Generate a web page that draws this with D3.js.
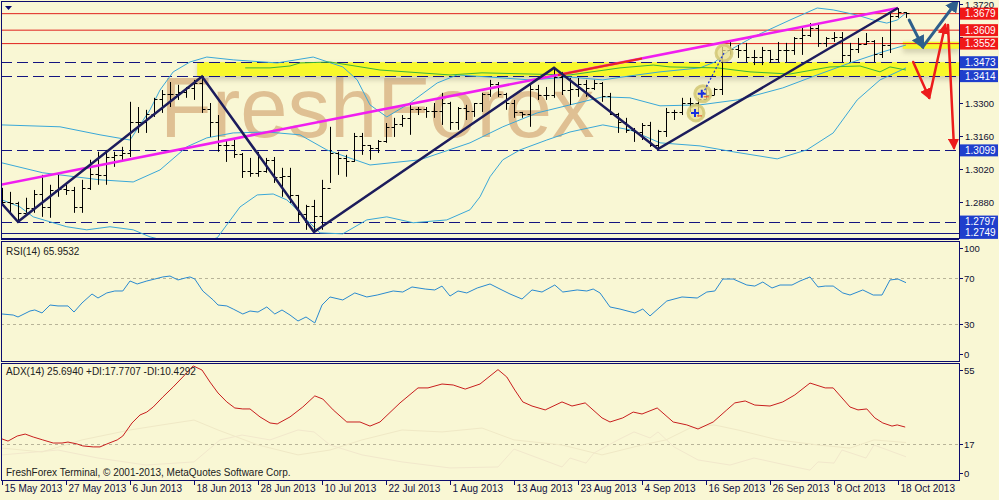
<!DOCTYPE html>
<html>
<head>
<meta charset="utf-8">
<script src="https://cdnjs.cloudflare.com/ajax/libs/d3/7.8.5/d3.min.js"></script>
<style>
body { margin: 0; background: #f9f7d4; }
svg { display: block; font-family: "Liberation Sans", Arial, sans-serif; }
</style>
</head>
<body>
<div id="chart"></div>
<script>
// ---- data (EURUSD daily) ----
var dateLabels = ["15 May 2013","27 May 2013","6 Jun 2013","18 Jun 2013","28 Jun 2013","10 Jul 2013",
  "22 Jul 2013","1 Aug 2013","13 Aug 2013","23 Aug 2013","4 Sep 2013","16 Sep 2013","26 Sep 2013",
  "8 Oct 2013","18 Oct 2013"];
var dateLabelBars = [0,8,16,24,32,40,48,56,64,72,80,88,96,104,112];

var opens = [1.2920,1.2880,1.2875,1.2835,1.2855,1.2915,1.2860,1.2930,1.2935,1.2930,
  1.2860,1.2940,1.3000,1.2995,1.3070,1.3080,1.3090,1.3220,1.3220,1.3255,
  1.3315,1.3340,1.3340,1.3345,1.3365,1.3385,1.3275,1.3220,1.3120,1.3120,
  1.3085,1.3010,1.3005,1.3010,1.3060,1.2985,1.2990,1.2910,1.2830,1.2865,
  1.2820,1.2940,1.3090,1.3065,1.3055,1.3160,1.3120,1.3110,1.3140,1.3200,
  1.3210,1.3235,1.3275,1.3275,1.3265,1.3265,1.3300,1.3220,1.3280,1.3265,
  1.3300,1.3340,1.3380,1.3340,1.3300,1.3260,1.3255,1.3360,1.3335,1.3335,
  1.3410,1.3355,1.3360,1.3380,1.3365,1.3385,1.3330,1.3255,1.3220,1.3185,
  1.3175,1.3205,1.3120,1.3180,1.3260,1.3260,1.3300,1.3300,1.3315,1.3335,
  1.3360,1.3525,1.3530,1.3525,1.3495,1.3495,1.3525,1.3485,1.3525,1.3525,
  1.3575,1.3590,1.3620,1.3555,1.3575,1.3580,1.3505,1.3530,1.3550,1.3565,
  1.3510,1.3545,1.3670,1.3685];
var highs = [1.2940,1.2923,1.2881,1.2898,1.2931,1.2995,1.2953,1.2995,1.2953,1.2944,
  1.2974,1.3059,1.3093,1.3101,1.3093,1.3114,1.3305,1.3283,1.3271,1.3322,
  1.3355,1.3389,1.3377,1.3368,1.3398,1.3410,1.3300,1.3249,1.3143,1.3143,
  1.3088,1.3067,1.3093,1.3067,1.3071,1.3025,1.3025,1.2910,1.2868,1.2889,
  1.2974,1.3199,1.3093,1.3080,1.3173,1.3173,1.3122,1.3143,1.3215,1.3237,
  1.3249,1.3292,1.3283,1.3283,1.3300,1.3343,1.3305,1.3283,1.3292,1.3300,
  1.3343,1.3398,1.3389,1.3343,1.3313,1.3262,1.3377,1.3377,1.3368,1.3449,
  1.3432,1.3406,1.3406,1.3398,1.3398,1.3389,1.3343,1.3258,1.3237,1.3194,
  1.3215,1.3220,1.3186,1.3279,1.3271,1.3322,1.3322,1.3322,1.3377,1.3364,
  1.3538,1.3567,1.3546,1.3555,1.3525,1.3538,1.3525,1.3559,1.3555,1.3580,
  1.3622,1.3639,1.3631,1.3580,1.3601,1.3601,1.3555,1.3576,1.3597,1.3567,
  1.3580,1.3682,1.3703,1.3686];
var lows = [1.2868,1.2834,1.2796,1.2834,1.2834,1.2817,1.2813,1.2902,1.2910,1.2834,
  1.2834,1.2931,1.2953,1.2953,1.3029,1.3050,1.3071,1.3173,1.3173,1.3241,
  1.3258,1.3283,1.3313,1.3322,1.3313,1.3258,1.3156,1.3093,1.3050,1.3067,
  1.2982,1.2987,1.2987,1.3004,1.2961,1.2902,1.2876,1.2796,1.2762,1.2753,
  1.2762,1.2961,1.2995,1.2987,1.3050,1.3080,1.3059,1.3088,1.3131,1.3156,
  1.3199,1.3165,1.3249,1.3237,1.3237,1.3207,1.3186,1.3186,1.3228,1.3241,
  1.3262,1.3326,1.3326,1.3271,1.3237,1.3237,1.3199,1.3313,1.3313,1.3322,
  1.3334,1.3292,1.3326,1.3326,1.3355,1.3305,1.3249,1.3173,1.3173,1.3135,
  1.3143,1.3114,1.3101,1.3156,1.3228,1.3249,1.3262,1.3241,1.3313,1.3334,
  1.3334,1.3504,1.3491,1.3474,1.3461,1.3461,1.3470,1.3474,1.3474,1.3504,
  1.3504,1.3580,1.3538,1.3538,1.3559,1.3474,1.3474,1.3512,1.3546,1.3474,
  1.3491,1.3512,1.3661,1.3661];
var closes = [1.2880,1.2875,1.2835,1.2855,1.2915,1.2860,1.2930,1.2935,1.2930,1.2860,
  1.2940,1.3000,1.2995,1.3070,1.3080,1.3090,1.3220,1.3220,1.3255,1.3315,
  1.3340,1.3340,1.3345,1.3365,1.3385,1.3275,1.3220,1.3120,1.3120,1.3085,
  1.3010,1.3005,1.3010,1.3060,1.2985,1.2990,1.2910,1.2830,1.2865,1.2820,
  1.2940,1.3090,1.3065,1.3055,1.3160,1.3120,1.3110,1.3140,1.3200,1.3210,
  1.3235,1.3275,1.3275,1.3265,1.3265,1.3300,1.3220,1.3280,1.3265,1.3300,
  1.3340,1.3380,1.3340,1.3300,1.3260,1.3255,1.3360,1.3335,1.3335,1.3410,
  1.3355,1.3360,1.3380,1.3365,1.3385,1.3330,1.3255,1.3220,1.3185,1.3175,
  1.3205,1.3120,1.3180,1.3260,1.3260,1.3300,1.3300,1.3315,1.3335,1.3360,
  1.3525,1.3530,1.3525,1.3495,1.3495,1.3525,1.3485,1.3525,1.3525,1.3575,
  1.3590,1.3620,1.3555,1.3575,1.3580,1.3505,1.3530,1.3550,1.3565,1.3510,
  1.3545,1.3670,1.3685,1.3680];

// bollinger lines, [bar, price]
var bbUpper = [[0,1.3207],[7.25,1.3199],[12.25,1.3165],[16,1.3143],[18.5,1.3271],[19.75,1.3355],
  [21.4,1.3432],[23.5,1.3474],[25.6,1.3495],[28.9,1.3483],[34.4,1.3470],[38.9,1.3495],[42.6,1.3453],
  [44.4,1.3398],[46,1.3292],[48.1,1.3241],[51,1.3300],[54.4,1.3385],[56.9,1.3419],[61,1.3410],
  [66,1.3398],[71,1.3410],[75.1,1.3398],[78.5,1.3415],[82.25,1.3432],[87.25,1.3449],[89.1,1.3474],
  [91,1.3525],[93.9,1.3580],[98.5,1.3652],[101.9,1.3703],[103.9,1.3695],[106.9,1.3673],
  [108.9,1.3652],[110.6,1.3639],[111.9,1.3652],[113,1.3682]];
var bbMiddle = [[0,1.3046],[5.1,1.3004],[12.25,1.2974],[16.4,1.2965],[19.75,1.3016],[23.1,1.3114],
  [25.6,1.3152],[28.9,1.3173],[33.1,1.3177],[37.25,1.3165],[40.6,1.3101],[43.1,1.3071],[46,1.3037],
  [52.25,1.3059],[58.5,1.3131],[62.6,1.3199],[66.9,1.3258],[71,1.3292],[75.1,1.3326],[78.5,1.3322],
  [82.25,1.3288],[87.25,1.3292],[91.9,1.3313],[94.75,1.3338],[97.6,1.3364],[101.9,1.3419],
  [106,1.3470],[110.1,1.3517],[113,1.3546]];
var bbLower = [[0,1.2889],[2.25,1.2859],[3.9,1.2817],[8.1,1.2775],[10.6,1.2762],[13.5,1.2775],
  [16.4,1.2762],[18.5,1.2732],[21,1.2711],[24.75,1.2707],[26.9,1.2728],[29.75,1.2859],[31.9,1.2910],
  [33.9,1.2914],[35.6,1.2889],[36.9,1.2847],[38.1,1.2804],[39.75,1.2749],[42.6,1.2745],[45.6,1.2804],
  [48.1,1.2817],[51.4,1.2792],[55.6,1.2804],[58.5,1.2847],[59.75,1.2902],[61,1.2987],[62.6,1.3059],
  [64.75,1.3101],[68.1,1.3143],[71,1.3177],[75.1,1.3207],[78.5,1.3186],[82.25,1.3131],[87.25,1.3118],
  [91.4,1.3093],[96.9,1.3063],[100.6,1.3101],[103.9,1.3173],[106.9,1.3313],[109.75,1.3398],[113,1.3449]];
var greenLine = [[30.4,1.3449],[33.5,1.3449],[36,1.3457],[37.25,1.3470],[41,1.3474],[47.25,1.3440],
  [56,1.3419],[60,1.3428],[66,1.3423],[71,1.3419],[77.25,1.3449],[81.4,1.3461],[83.5,1.3453],
  [89.4,1.3449],[93.5,1.3432],[98.5,1.3423],[103.5,1.3453],[107.25,1.3457],[109.75,1.3432],
  [111,1.3453],[113,1.3440]];

var zigzag = [[0,1.2872],[2,1.2796],[25,1.3412],[39,1.2753],[69,1.3449],[82,1.3105],[112,1.3703]];
var trendLine = [[-0.25,1.2953],[112,1.3703]];
var trendRed = [[69.5,1.3419],[80,1.3489]];

var redLevels = [1.3679,1.3609,1.3552];
var dashLevels = [1.3473,1.3414,1.3099,1.2797];
var solidLevels = [1.2749];
var priceTicks = [1.3720,1.3580,1.3440,1.3300,1.3160,1.3020,1.2880,1.2740];
var zoneBand = {from: 24.4, top: 1.3473, bottom: 1.3414};
var zoneSmall = {from: 112.6, top: 1.3560, bottom: 1.3530};

var tradeMarks = [[86.75,1.3258],[87.6,1.3339],[90.25,1.3512]];
var blueArrow = [[113.4,1.3652],[115.1,1.3538],[119.4,1.3733]];
var redArrowA = [[113.9,1.3474],[115.9,1.3322],[117.9,1.3631]];
var redArrowB = [[118.25,1.3631],[119,1.3110]];

var rsiPts = [[0,38.7],[1.4,37.8],[2,36.1],[3.5,41.3],[4.1,42.2],[5,39.6],[6,46.5],[7,45.7],[8.25,45.7],
  [9,40.4],[10,48.3],[11.25,56.1],[12,52.6],[13.1,57],[14.1,58.7],[15.1,58.7],[16,67.4],[16.9,64.8],
  [18.1,67.4],[19.1,69.1],[20.1,70.9],[21,71.7],[22,68.3],[22.9,70],[23.5,70.9],[24.1,69.1],[25.1,58.7],
  [26.4,50.9],[27,46.5],[28.1,45.7],[28.9,43],[30.1,38.7],[31,41.3],[32,40.4],[33.1,44.8],[34.1,38.7],
  [35,42.2],[36,37.8],[37,32.6],[38,36.1],[39.1,30.9],[40,46.5],[41,53.5],[42.6,50.9],[44.1,57],
  [45.6,53.5],[46.9,55.2],[48.9,58.7],[50.1,57.8],[51.25,62.2],[52.9,60.4],[54.1,59.6],[55,63],[56,54.3],
  [57,58.7],[58.1,57],[59.4,61.3],[61,64.8],[62.25,60.4],[63.5,56.1],[65,51.7],[66.25,59.6],[67.5,57.8],
  [69.1,63.9],[70.1,57.8],[71.9,59.6],[73.1,58.7],[73.9,60.4],[74.75,57],[76,44.8],[77.25,43],[79.1,39.6],
  [80.1,43],[81,37],[83.1,50],[85,53.5],[86.9,52.6],[88.1,57.8],[89.1,58.7],[90.1,69.1],[91.4,69.1],
  [93.1,63.9],[94.1,63],[95.1,66.5],[96.25,61.3],[97.25,63.9],[98.75,63.9],[99.75,67.4],[101,70.9],
  [102,62.2],[102.9,63],[103.9,63],[105.1,57],[106,55.2],[107.6,59.6],[108.9,55.2],[110,55.2],
  [111,68.3],[112,69.1],[113,65.95]];
var rsiTicks = [100,70,30,0];

var adxPts = [[0,19.6],[0.75,18.5],[1.9,21.1],[2.9,22.1],[3.9,20.6],[5.1,19.1],[6.4,17.5],[7.5,17.5],
  [8.25,18],[9.4,17],[10.1,16],[11.4,15.5],[12.25,15.5],[13.1,17],[14.4,19.1],[15.1,21.1],[16.25,27.8],
  [17.25,31.9],[18.1,33.4],[18.9,36],[20.1,41.1],[21.4,46.3],[22.6,51.4],[23.9,57.1],[25,55],[26,48.8],
  [27,43.2],[28.1,38.6],[29.1,35.5],[30.1,35],[31,35],[32.25,30.9],[33.5,27.8],[34.4,27.3],[36,30.9],
  [37.6,36],[39.1,41.7],[40.1,40.1],[41.4,34.5],[43.1,28.3],[44.75,28.3],[46,26.2],[47.25,28.3],
  [49.75,38.1],[52,45.8],[53.25,45.8],[55,47.8],[56.4,47.3],[57.9,45.2],[59.75,47.8],[62,55.2],
  [63.1,51.4],[64.1,44.7],[65.1,38.6],[66.25,36.5],[67.9,34.5],[70,38.6],[71.25,36.5],[72.9,38.1],
  [75,30.4],[76,28.3],[77.6,30.4],[78.9,33.4],[80,32.4],[81.9,35.5],[83.9,28.3],[85.6,26.8],[87,24.7],
  [88.9,28.3],[90.6,34.5],[91.6,38.1],[92.9,39.1],[94.1,37],[96,36.5],[97.6,38.6],[99.1,42.2],
  [101,48.3],[102.9,45.8],[103.9,45.8],[106,36],[107,34.5],[108.1,35],[109.1,30.4],[110.1,27.8],
  [111.25,26.2],[111.9,26.8],[112.9,25.69]];
var plusDI = [[0,14.9],[5,12.9],[10,19.1],[16,24.2],[20,26.8],[24,29.3],[27,24.2],[32,16.5],[37,11.4],
  [41,13.9],[45,19.1],[50,24.2],[55,23.2],[60,25.2],[64,19.1],[70,16.5],[75,11.4],[80,16.5],[83,19.1],
  [86,25.2],[89,26.8],[92,24.2],[97,19.1],[102,16.5],[106,14.9],[109,19.1],[113,17.77]];
var minusDI = [[0,11.4],[7,13.9],[12,9.8],[18,6.2],[24,7.8],[27.25,19.1],[30,21.6],[33.5,19.1],[37,24.2],
  [39,23.2],[41,16.5],[45,11.4],[50,7.8],[56,4.7],[62,5.2],[64,14.4],[70,5.2],[71,9.8],[73,7.2],[74,12.4],
  [77,19.1],[79,23.2],[81,20.1],[82,23.2],[84,15.5],[87,8.8],[91,6.2],[94,9.8],[98,6.2],[101,3.6],
  [102,7.8],[104,7.2],[105,13.9],[108,9.8],[109,16.5],[113,10.43]];
var adxTicks = [55,17,0];

// ---- layout ----
var W = 999, H = 500;
var navy = "#0c0c6e";
var plotLeft = 1, plotRight = 959;
var mainTop = 1, mainBottom = 238, rsiTop = 241, rsiBottom = 361, adxTop = 363, adxBottom = 480;

var x = d3.scaleLinear().domain([0, 113]).range([2, 906]);
var yP = d3.scaleLinear().domain([1.2880, 1.3720]).range([202, 4]);
var yR = d3.scaleLinear().domain([30, 70]).range([324, 278]);
var yA = d3.scaleLinear().domain([17, 55]).range([444, 370]);

var svg = d3.select("#chart").append("svg").attr("width", W).attr("height", H);
svg.append("rect").attr("width", W).attr("height", H).attr("fill", "#f9f7d4");

var defs = svg.append("defs");
[["clipMain", mainTop, mainBottom], ["clipRsi", rsiTop, rsiBottom], ["clipAdx", adxTop, adxBottom]].forEach(function(c) {
  defs.append("clipPath").attr("id", c[0]).append("rect")
    .attr("x", plotLeft + 1).attr("y", c[1] + 1).attr("width", plotRight - plotLeft - 1).attr("height", c[2] - c[1] - 1);
});
defs.append("filter").attr("id", "blur").attr("x", "-10%").attr("y", "-50%").attr("width", "120%").attr("height", "200%")
  .append("feGaussianBlur").attr("stdDeviation", 2.5);
function marker(id, color) {
  defs.append("marker").attr("id", id).attr("viewBox", "0 0 10 10").attr("refX", 8).attr("refY", 5)
    .attr("markerWidth", 4.5).attr("markerHeight", 4.5).attr("orient", "auto")
    .append("path").attr("d", "M0,0L10,5L0,10z").attr("fill", color);
}
marker("headBlue", "#2e5f8c");
marker("headRed", "#ec1c1c");

var line = d3.line();
function pxP(d) { return [x(d[0]), yP(d[1])]; }

// ---- main panel ----
var main = svg.append("g").attr("clip-path", "url(#clipMain)");

main.append("text").attr("x", 160).attr("y", 137).attr("font-size", 85)
  .attr("fill", "#dcb98c").attr("fill-opacity", 0.9).text("FreshForex");

// yellow zones with soft shadow
[zoneBand, zoneSmall].forEach(function(z) {
  var x0 = x(z.from), y0 = yP(z.top), h = yP(z.bottom) - yP(z.top);
  main.append("rect").attr("x", x0).attr("y", y0 + 2).attr("width", plotRight - x0).attr("height", h + 2)
    .attr("fill", "#a8a488").attr("opacity", 0.45).attr("filter", "url(#blur)");
  main.append("rect").attr("x", x0).attr("y", y0).attr("width", plotRight - x0).attr("height", h)
    .attr("fill", "#f8f82c");
});

main.selectAll(".lvlRed").data(redLevels).enter().append("line")
  .attr("x1", plotLeft).attr("x2", plotRight).attr("y1", yP).attr("y2", yP)
  .attr("stroke", "#e0201c").attr("stroke-width", 1);
main.selectAll(".lvlDash").data(dashLevels).enter().append("line")
  .attr("x1", plotLeft).attr("x2", plotRight).attr("y1", function(d) { return Math.round(yP(d)) + 0.5; })
  .attr("y2", function(d) { return Math.round(yP(d)) + 0.5; })
  .attr("stroke", "#141480").attr("stroke-width", 1).attr("stroke-dasharray", "11,5");
main.selectAll(".lvlSolid").data(solidLevels).enter().append("line")
  .attr("x1", plotLeft).attr("x2", plotRight).attr("y1", function(d) { return Math.round(yP(d)) + 0.5; })
  .attr("y2", function(d) { return Math.round(yP(d)) + 0.5; })
  .attr("stroke", "#141480").attr("stroke-width", 1);

[bbUpper, bbMiddle, bbLower].forEach(function(s) {
  main.append("path").attr("d", line(s.map(pxP))).attr("fill", "none")
    .attr("stroke", "#3aa8d8").attr("stroke-width", 1);
});
main.append("path").attr("d", line(greenLine.map(pxP))).attr("fill", "none")
  .attr("stroke", "#3cb43c").attr("stroke-width", 1);

// OHLC bars
var bars = main.append("g").attr("stroke", "#000").attr("stroke-width", 1);
d3.range(highs.length).forEach(function(i) {
  var cx = Math.round(x(i)) + 0.5;
  bars.append("line").attr("x1", cx).attr("x2", cx).attr("y1", yP(highs[i])).attr("y2", yP(lows[i]));
  bars.append("line").attr("x1", cx - 3).attr("x2", cx).attr("y1", Math.round(yP(opens[i])) + 0.5).attr("y2", Math.round(yP(opens[i])) + 0.5);
  bars.append("line").attr("x1", cx).attr("x2", cx + 3).attr("y1", Math.round(yP(closes[i])) + 0.5).attr("y2", Math.round(yP(closes[i])) + 0.5);
});

main.append("path").attr("d", line(trendLine.map(pxP))).attr("fill", "none")
  .attr("stroke", "#f01ef0").attr("stroke-width", 2.5);
main.append("path").attr("d", line(trendRed.map(pxP))).attr("fill", "none")
  .attr("stroke", "#e8281e").attr("stroke-width", 2);
main.append("path").attr("d", line(zigzag.map(pxP))).attr("fill", "none")
  .attr("stroke", "#1c1c5c").attr("stroke-width", 2.5).attr("stroke-linejoin", "miter");

// trade markers
main.selectAll(".mark").data(tradeMarks).enter().append("circle")
  .attr("cx", function(d) { return x(d[0]); }).attr("cy", function(d) { return yP(d[1]); }).attr("r", 8)
  .attr("fill", "#e8df94").attr("fill-opacity", 0.75).attr("stroke", "#cfc470").attr("stroke-width", 3).attr("stroke-opacity", 0.8);
main.append("path").attr("d", line([tradeMarks[1], tradeMarks[2]].map(pxP)))
  .attr("stroke", "#1830d8").attr("stroke-width", 1.2).attr("stroke-dasharray", "2,2").attr("fill", "none");
tradeMarks.slice(0, 2).forEach(function(d) {
  var cx = x(d[0]) - 1, cy = yP(d[1]);
  main.append("path").attr("d", "M" + (cx - 4) + "," + cy + "H" + (cx + 4) + "M" + cx + "," + (cy - 4) + "V" + (cy + 4))
    .attr("stroke", "#1830e0").attr("stroke-width", 2);
  main.append("line").attr("x1", cx + 2).attr("x2", cx + 7).attr("y1", cy + 3).attr("y2", cy + 3)
    .attr("stroke", "#e84020").attr("stroke-width", 1);
});

// forecast arrows
function arrowPath(pts, color, w, head) {
  for (var k = 0; k < pts.length - 1; k++) {
    main.append("path").attr("d", line([pts[k], pts[k + 1]].map(pxP))).attr("fill", "none")
      .attr("stroke", color).attr("stroke-width", w).attr("stroke-linecap", "round")
      .attr("marker-end", "url(#" + head + ")");
  }
}
arrowPath(blueArrow, "#2e5f8c", 3, "headBlue");
arrowPath(redArrowA, "#ec1c1c", 2.5, "headRed");
arrowPath(redArrowB, "#ec1c1c", 2.5, "headRed");

svg.append("path").attr("d", "M5,6H12L8.5,10z").attr("fill", navy);

// ---- RSI panel ----
var rsiG = svg.append("g").attr("clip-path", "url(#clipRsi)");
[70, 30].forEach(function(v) {
  rsiG.append("line").attr("x1", plotLeft).attr("x2", plotRight).attr("y1", Math.round(yR(v)) + 0.5).attr("y2", Math.round(yR(v)) + 0.5)
    .attr("stroke", "#b8b498").attr("stroke-dasharray", "3,3");
});
rsiG.append("path").attr("d", line(rsiPts.map(function(d) { return [x(d[0]), yR(d[1])]; })))
  .attr("fill", "none").attr("stroke", "#2a8ad0").attr("stroke-width", 1);
svg.append("text").attr("x", 6).attr("y", 255).attr("font-size", 10).attr("fill", "#202020").text("RSI(14) 65.9532");

// ---- ADX panel ----
var adxG = svg.append("g").attr("clip-path", "url(#clipAdx)");
adxG.append("line").attr("x1", plotLeft).attr("x2", plotRight).attr("y1", Math.round(yA(17)) + 0.5).attr("y2", Math.round(yA(17)) + 0.5)
  .attr("stroke", "#b8b498").attr("stroke-dasharray", "3,3");
adxG.append("path").attr("d", line(plusDI.map(function(d) { return [x(d[0]), yA(d[1])]; })))
  .attr("fill", "none").attr("stroke", "#f0e9c6").attr("stroke-width", 1);
adxG.append("path").attr("d", line(minusDI.map(function(d) { return [x(d[0]), yA(d[1])]; })))
  .attr("fill", "none").attr("stroke", "#f2e8cc").attr("stroke-width", 1);
adxG.append("path").attr("d", line(adxPts.map(function(d) { return [x(d[0]), yA(d[1])]; })))
  .attr("fill", "none").attr("stroke", "#c81e1e").attr("stroke-width", 1);
svg.append("text").attr("x", 6).attr("y", 375).attr("font-size", 10).attr("fill", "#202020")
  .text("ADX(14) 25.6940 +DI:17.7707 -DI:10.4292");
svg.append("text").attr("x", 6).attr("y", 476).attr("font-size", 10).attr("fill", "#202020")
  .text("FreshForex Terminal, \u00a9 2001-2013, MetaQuotes Software Corp.");

// ---- frames ----
[[mainTop, mainBottom], [rsiTop, rsiBottom], [adxTop, adxBottom]].forEach(function(p) {
  svg.append("rect").attr("x", plotLeft + 0.5).attr("y", p[0] + 0.5).attr("width", plotRight - plotLeft)
    .attr("height", p[1] - p[0]).attr("fill", "none").attr("stroke", navy).attr("stroke-width", 1);
});
svg.append("line").attr("x1", plotLeft).attr("x2", plotRight).attr("y1", 239.5).attr("y2", 239.5).attr("stroke", navy);

// ---- right axes ----
var ax = svg.append("g").attr("font-size", 9.5).attr("fill", "#101030");
var boxLevels = redLevels.concat(dashLevels, solidLevels);
priceTicks.forEach(function(p) {
  var yy = Math.round(yP(p)) + 0.5;
  ax.append("line").attr("x1", plotRight).attr("x2", plotRight + 4).attr("y1", yy).attr("y2", yy).attr("stroke", navy);
  // labels hidden under a level box are left out
  var covered = boxLevels.some(function(b) { return Math.abs(yP(b) - yP(p)) < 9; });
  if (!covered) ax.append("text").attr("x", 965).attr("y", Math.max(yy, 4.5) + 3.2).text(p.toFixed(4));
});
function levelBox(p, color) {
  var yy = yP(p);
  ax.append("rect").attr("x", 960).attr("y", yy - 6).attr("width", 38).attr("height", 12).attr("fill", color);
  ax.append("text").attr("x", 965).attr("y", yy + 3.5).attr("fill", "#fff").attr("font-size", 10).text(p.toFixed(4));
}
redLevels.forEach(function(p) { levelBox(p, "#f01818"); });
dashLevels.concat(solidLevels).forEach(function(p) { levelBox(p, "#1f3fcc"); });

rsiTicks.forEach(function(v) {
  var yy = Math.min(Math.max(yR(v), 248), 354);
  ax.append("line").attr("x1", plotRight).attr("x2", plotRight + 4).attr("y1", Math.round(yy) + 0.5)
    .attr("y2", Math.round(yy) + 0.5).attr("stroke", navy);
  ax.append("text").attr("x", 964).attr("y", yy + 3.5).text(v);
});
adxTicks.forEach(function(v) {
  var yy = Math.min(Math.max(yA(v), 370), 473);
  ax.append("line").attr("x1", plotRight).attr("x2", plotRight + 4).attr("y1", Math.round(yy) + 0.5)
    .attr("y2", Math.round(yy) + 0.5).attr("stroke", navy);
  ax.append("text").attr("x", 964).attr("y", yy + 3.5).text(v);
});

// ---- time axis ----
var tx = svg.append("g").attr("font-size", 10).attr("fill", "#101040");
dateLabelBars.forEach(function(b, k) {
  var xx = Math.round(x(b)) + 0.5;
  tx.append("line").attr("x1", xx).attr("x2", xx).attr("y1", adxBottom).attr("y2", adxBottom + 5).attr("stroke", navy);
  tx.append("text").attr("x", xx + 2).attr("y", 492).text(dateLabels[k]);
});
</script>
</body>
</html>
